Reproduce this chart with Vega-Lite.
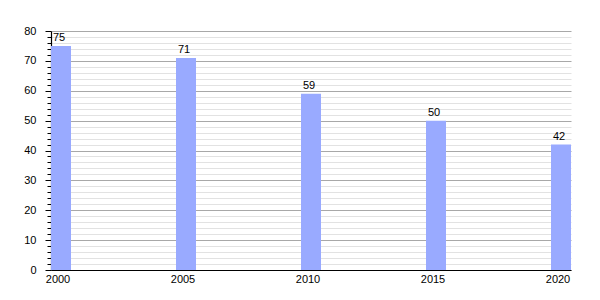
{
  "$schema": "https://vega.github.io/schema/vega-lite/v6.json",
  "width": 520,
  "height": 239,
  "autosize": {"type": "none"},
  "padding": {"left": 51, "top": 31, "right": 29, "bottom": 30},
  "background": "white",
  "config": {
    "view": {"stroke": null},
    "font": "Liberation Sans",
    "axis": {"labelFont": "Liberation Sans", "labelFontSize": 11, "labelColor": "#000000", "domainColor": "#000000", "tickColor": "#000000"}
  },
  "data": {
    "values": [
      {"year": "2000", "value": 75},
      {"year": "2005", "value": 71},
      {"year": "2010", "value": 59},
      {"year": "2015", "value": 50},
      {"year": "2020", "value": 42}
    ]
  },
  "encoding": {
    "x": {
      "field": "year", "type": "ordinal",
      "scale": {"type": "band", "paddingInner": 0.84, "paddingOuter": 0},
      "axis": {"title": null, "labelAngle": 0, "ticks": false, "labelPadding": 3, "labelOffset": -3, "domainWidth": 1.2}
    }
  },
  "layer": [
    {
      "mark": {"type": "bar", "color": "#99aaff"},
      "encoding": {
        "y": {
          "field": "value", "type": "quantitative",
          "scale": {"domain": [0, 80], "nice": false},
          "axis": {
            "title": null, "orient": "left",
            "values": [2,4,6,8,12,14,16,18,22,24,26,28,32,34,36,38,42,44,46,48,52,54,56,58,62,64,66,68,72,74,76,78],
            "labels": false, "tickSize": 4, "domain": false,
            "grid": true, "gridColor": "#e2e2e2", "gridWidth": 1
          }
        }
      }
    },
    {
      "mark": {"type": "text", "baseline": "bottom", "dy": -3, "dx": -2, "fontSize": 11, "color": "#000000", "font": "Liberation Sans"},
      "encoding": {
        "y": {
          "field": "value", "type": "quantitative",
          "scale": {"domain": [0, 80], "nice": false},
          "axis": {
            "title": null, "orient": "left",
            "values": [0,10,20,30,40,50,60,70,80],
            "tickSize": 6, "labelPadding": 9, "domainWidth": 1.2,
            "grid": true, "gridColor": "#a8a8a8", "gridWidth": 1
          }
        },
        "text": {"field": "value", "type": "quantitative"}
      }
    }
  ],
  "resolve": {"axis": {"y": "independent"}}
}
